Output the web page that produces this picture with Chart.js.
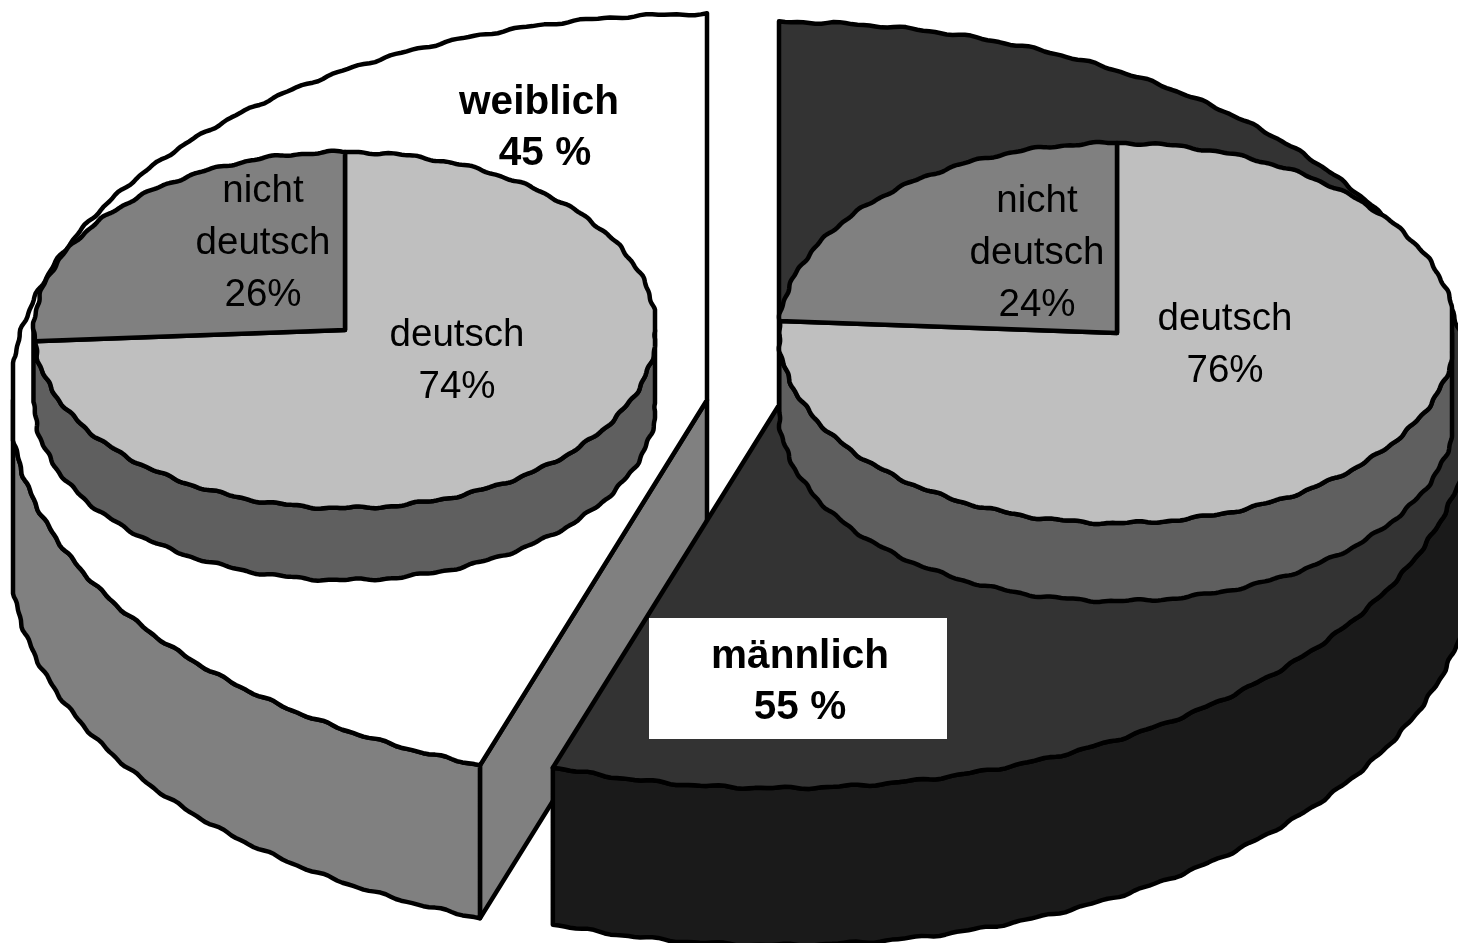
<!DOCTYPE html>
<html>
<head>
<meta charset="utf-8">
<style>
html,body{margin:0;padding:0;background:#fff;overflow:hidden}
canvas{display:block}
</style>
<script src="https://cdn.jsdelivr.net/npm/chart.js@4"></script>
</head>
<body>
<canvas id="c" width="1458" height="943"></canvas>
<script>
const genderLabels = ['männlich', 'weiblich'];
const genderValues = [55, 45];
const maleLabels = ['deutsch', 'nicht deutsch'];
const maleValues = [76, 24];
const femaleLabels = ['deutsch', 'nicht deutsch'];
const femaleValues = [74, 26];

const topColors = { männlich: '#333333', weiblich: '#ffffff' };
const wallColors = { männlich: '#1a1a1a', weiblich: '#808080' };
const innerTop = ['#bfbfbf', '#808080'];
const innerWall = '#5f5f5f';

const outerDiscs = {
  weiblich: { cx: 707, cy: 400, rx: 697, ry: 386, depth: 153, minX: 13, phase: 0.4, f1: 67, f2: 131 },
  männlich: { cx: 779, cy: 405, rx: 694, ry: 383, depth: 157, minX: -1e4, phase: 1.7, f1: 67, f2: 131 }
};
const femaleDisc = { cx: 345, cy: 330, rx: 311, ry: 178, depth: 72, minX: 33, maxX: 655, phase: 2.3, f1: 29, f2: 67 };
const maleDisc = { cx: 1117, cy: 333, rx: 338, ry: 190, depth: 78, minX: 779, maxX: 1452, phase: 3.1, f1: 31, f2: 71 };
const CUT_SKEW = Math.PI / 180;
const LW = 4.5;

function rim(d, a, z) {
  const w = 0.9 * Math.sin(a * d.f1 + d.phase) + 0.6 * Math.sin(a * d.f2 + d.phase * 2);
  let x = d.cx + (d.rx + w) * Math.sin(a);
  let y = d.cy - (d.ry + w) * Math.cos(a);
  if (x < d.minX) x = d.minX;
  if (d.maxX !== undefined && x > d.maxX) x = d.maxX;
  return [x, y + (z || 0)];
}
function trace(ctx, d, a0, a1, z, move) {
  const n = Math.max(2, Math.ceil(Math.abs(a1 - a0) / (Math.PI / 360)));
  for (let i = 0; i <= n; i++) {
    const p = rim(d, a0 + (a1 - a0) * i / n, z);
    if (i === 0 && move) ctx.moveTo(p[0], p[1]); else ctx.lineTo(p[0], p[1]);
  }
}
function paint(ctx, fill) {
  ctx.fillStyle = fill;
  ctx.strokeStyle = '#000';
  ctx.lineWidth = LW;
  ctx.lineJoin = 'round';
  ctx.fill();
  ctx.stroke();
}
function wall(ctx, d, a0, a1, fill) {
  ctx.beginPath();
  trace(ctx, d, a0, a1, 0, true);
  trace(ctx, d, a1, a0, d.depth, false);
  ctx.closePath();
  paint(ctx, fill);
}
function sector(ctx, d, a0, a1, fill) {
  ctx.beginPath();
  ctx.moveTo(d.cx, d.cy);
  trace(ctx, d, a0, a1, 0, false);
  ctx.closePath();
  paint(ctx, fill);
}
const ang = v => v + Math.PI / 2;

function drawInner(ctx, chart, idx, d) {
  const arcs = chart.getDatasetMeta(idx).data;
  wall(ctx, d, Math.PI / 2, 3 * Math.PI / 2, innerWall);
  arcs.forEach((arc, i) => sector(ctx, d, ang(arc.startAngle), ang(arc.endAngle), innerTop[i]));
}
function textBlock(ctx, lines, x, y, gap, font) {
  ctx.font = font;
  ctx.fillStyle = '#000';
  ctx.textAlign = 'center';
  ctx.textBaseline = 'middle';
  lines.forEach((t, i) => ctx.fillText(t, x, y + i * gap));
}
const REG = '38.5px "Liberation Sans", Arial, sans-serif';
const BOLD = 'bold 40.5px "Liberation Sans", Arial, sans-serif';

const piePlugin = {
  id: 'exploded3d',
  beforeDatasetsDraw() { return false; },
  afterDraw(chart) {
    const ctx = chart.ctx;
    const outer = chart.getDatasetMeta(0).data;
    const male = outer[0], female = outer[1];

    const fd = outerDiscs.weiblich;
    const fa0 = ang(female.startAngle) + CUT_SKEW, fa1 = ang(female.endAngle);
    const fp = rim(fd, fa0, 0);
    ctx.beginPath();
    ctx.moveTo(fd.cx, fd.cy);
    ctx.lineTo(fp[0], fp[1]);
    ctx.lineTo(fp[0], fp[1] + fd.depth);
    ctx.lineTo(fd.cx, fd.cy + fd.depth);
    ctx.closePath();
    paint(ctx, wallColors.weiblich);
    wall(ctx, fd, fa0, 3 * Math.PI / 2, wallColors.weiblich);
    sector(ctx, fd, fa0, fa1, topColors.weiblich);
    drawInner(ctx, chart, 2, femaleDisc);

    const md = outerDiscs.männlich;
    const ma0 = ang(male.startAngle), ma1 = ang(male.endAngle) + CUT_SKEW;
    wall(ctx, md, Math.PI / 2, ma1, wallColors.männlich);
    sector(ctx, md, ma0, ma1, topColors.männlich);
    drawInner(ctx, chart, 1, maleDisc);

    ctx.fillStyle = '#fff';
    ctx.fillRect(649, 618, 298, 121);
    textBlock(ctx, [genderLabels[1]], 539, 103, 0, BOLD);
    textBlock(ctx, [genderValues[1] + ' %'], 545, 154, 0, BOLD);
    textBlock(ctx, [genderLabels[0], genderValues[0] + ' %'], 800, 657, 51, BOLD);

    textBlock(ctx, femaleLabels[1].split(' ').concat(femaleValues[1] + '%'), 263, 191, 52, REG);
    textBlock(ctx, [femaleLabels[0], femaleValues[0] + '%'], 457, 335, 52, REG);
    textBlock(ctx, maleLabels[1].split(' ').concat(maleValues[1] + '%'), 1037, 201, 52, REG);
    textBlock(ctx, [maleLabels[0], maleValues[0] + '%'], 1225, 319, 52, REG);
  }
};

new Chart(document.getElementById('c'), {
  type: 'pie',
  data: {
    labels: genderLabels,
    datasets: [
      { label: 'Geschlecht', data: genderValues },
      { label: 'männlich', data: maleValues },
      { label: 'weiblich', data: femaleValues }
    ]
  },
  options: {
    responsive: false,
    animation: false,
    events: [],
    plugins: { legend: { display: false }, tooltip: { enabled: false } }
  },
  plugins: [piePlugin]
});
</script>
</body>
</html>
